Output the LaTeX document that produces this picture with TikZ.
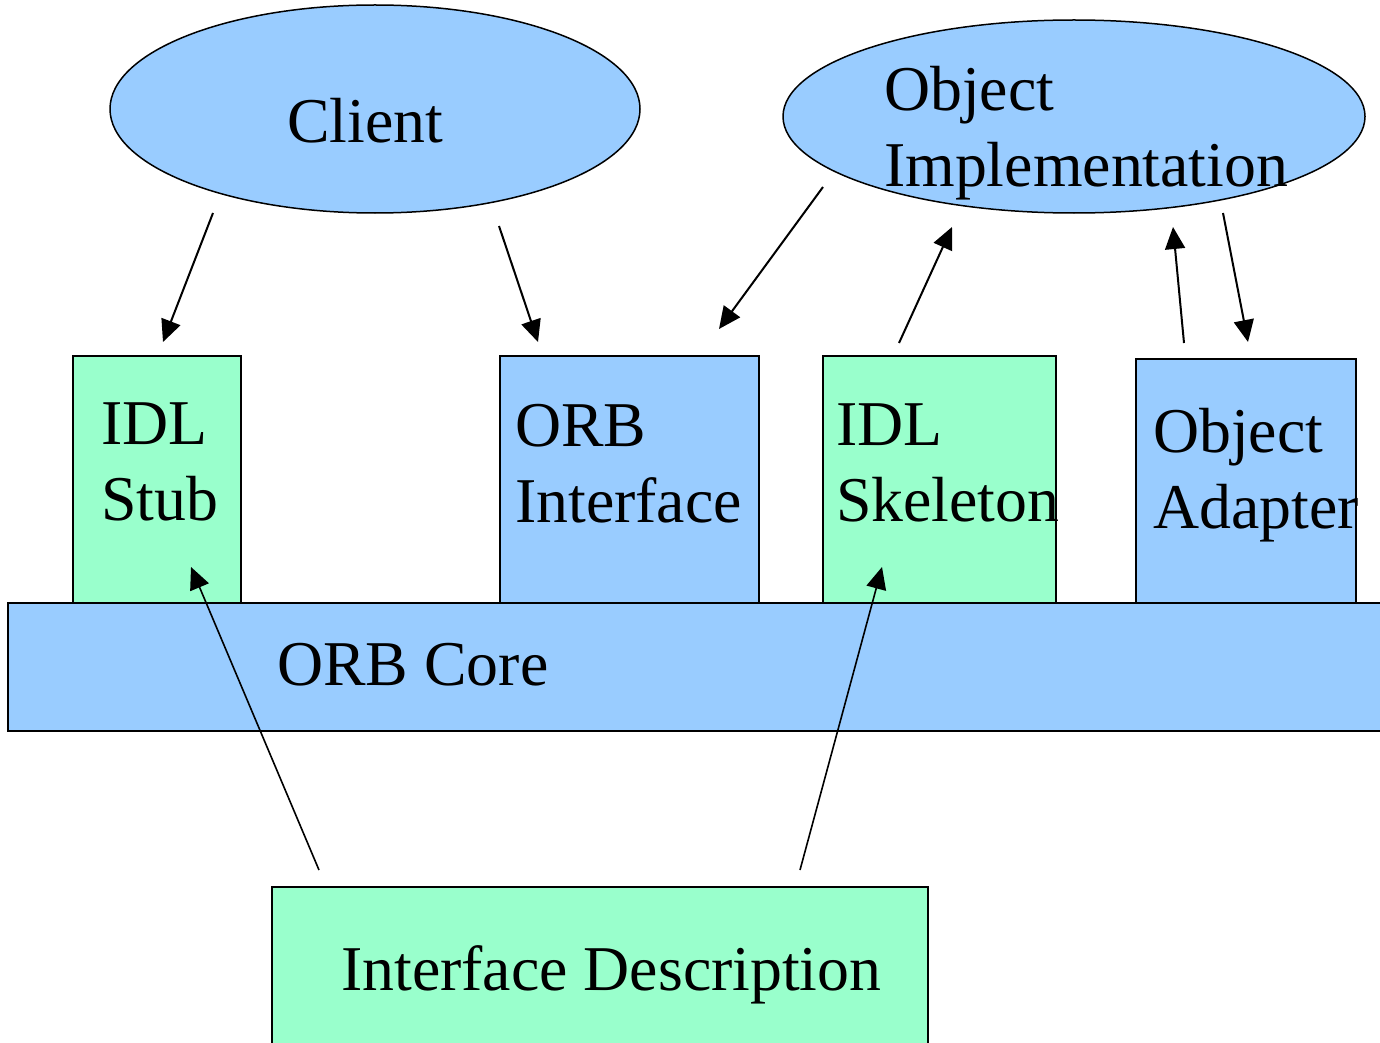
\documentclass[tikz,border=0pt]{standalone}
\usepackage{fontspec}
\setmainfont{Liberation Serif}
\usepackage{tikz}
\usetikzlibrary{shapes.geometric, arrows.meta}
\definecolor{orbblue}{HTML}{99CCFF}
\definecolor{idlgreen}{HTML}{99FFCC}

\begin{document}
\begin{tikzpicture}[x=1pt, y=-1pt,
	part/.style={draw=black, line width=1.7pt, rectangle, inner sep=0pt, anchor=north west},
	blob/.style={draw=black, line width=1.5pt, ellipse, inner sep=0pt},
	lbl/.style={font=\fontsize{63.8}{76}\selectfont, inner sep=0pt, align=left, anchor=base west},
	call/.style={line width=2pt, -{Triangle[length=22pt, width=20pt]}},
	gen/.style={line width=1.6pt, -{Triangle[length=22pt, width=20pt]}}]
	\useasboundingbox (0,0) rectangle (1380,1043);

	\node[blob, fill=orbblue, minimum width=530, minimum height=208] (client) at (375,109) {};
	\node[blob, fill=orbblue, minimum width=582, minimum height=193] (objimpl) at (1074,116.5) {};

	\node[part, fill=idlgreen, minimum width=168, minimum height=247] (stub) at (72,355) {};
	\node[part, fill=orbblue, minimum width=259, minimum height=247] (orbif) at (499,355) {};
	\node[part, fill=idlgreen, minimum width=233, minimum height=247] (skel) at (822,355) {};
	\node[part, fill=orbblue, minimum width=220, minimum height=244] (adapter) at (1135,358) {};
	\node[part, fill=orbblue, minimum width=1400, minimum height=128] (core) at (7,602) {};
	\node[part, fill=idlgreen, minimum width=656, minimum height=200] (idesc) at (271,886) {};

	% base west sits on the last line
	\node[lbl] (clienttxt) at (287,143) {Client};
	\node[lbl] (objimpltxt) at (884,186) {Object\\Implementation};
	\node[lbl] (stubtxt) at (101,520) {IDL\\Stub};
	\node[lbl] (orbiftxt) at (515,522) {ORB\\Interface};
	\node[lbl] (skeltxt) at (836,521) {IDL\\Skeleton};
	\node[lbl] (adaptertxt) at (1153,528) {Object\\Adapter};
	\node[lbl] (coretxt) at (277,685) {ORB Core};
	\node[lbl] (idesctxt) at (341,990) {Interface Description};

	\coordinate (cl-a) at (213,213);   \coordinate (stub-in) at (163,342);
	\coordinate (cl-b) at (499,226);   \coordinate (orbif-in) at (538,342);
	\coordinate (oi-a) at (823,187);   \coordinate (orbif-in2) at (719,329);
	\coordinate (skel-out) at (899,343); \coordinate (oi-in) at (952,227);
	\coordinate (oa-out) at (1184,343); \coordinate (oi-in2) at (1173,227);
	\coordinate (oi-b) at (1223,213);  \coordinate (oa-in) at (1248,342);
	\coordinate (id-a) at (319,870);   \coordinate (stub-up) at (191,567);
	\coordinate (id-b) at (800,870);   \coordinate (skel-up) at (882,567);

	\draw[call] (cl-a) -- (stub-in);
	\draw[call] (cl-b) -- (orbif-in);
	\draw[call] (oi-a) -- (orbif-in2);
	\draw[call] (skel-out) -- (oi-in);
	\draw[call] (oa-out) -- (oi-in2);
	\draw[call] (oi-b) -- (oa-in);
	\draw[gen] (id-a) -- (stub-up);
	\draw[gen] (id-b) -- (skel-up);
\end{tikzpicture}
\end{document}
